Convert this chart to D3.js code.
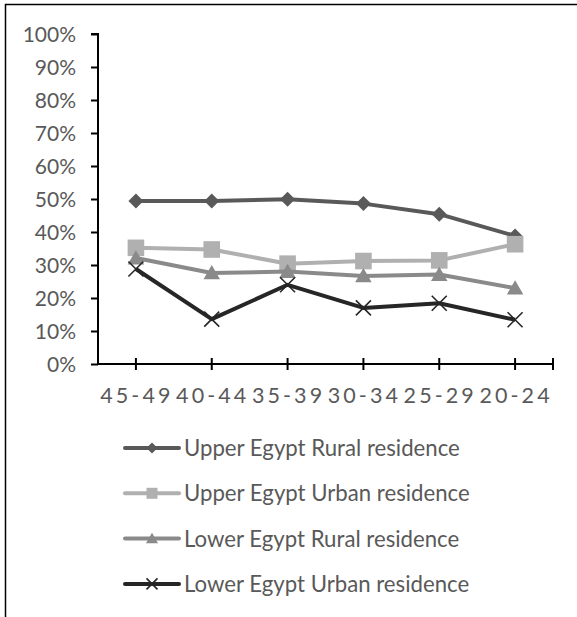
<!DOCTYPE html>
<html>
<head>
<meta charset="utf-8">
<script src="https://cdn.jsdelivr.net/npm/d3@7"></script>
<style>
  html, body { margin: 0; padding: 0; background: #fff; }
  svg { display: block; }
  text { font-family: Lato, "Open Sans", sans-serif; fill: #595959; }
</style>
</head>
<body>
<svg id="chart" width="577" height="617"></svg>
<script>
// Age groups along the x axis
const categories = ["45-49", "40-44", "35-39", "30-34", "25-29", "20-24"];

// Share (%) per age group, one array per region/residence
const upperRural = [49.4, 49.4, 49.9, 48.6, 45.4, 38.8];
const upperUrban = [35.2, 34.7, 30.4, 31.2, 31.4, 36.3];
const lowerRural = [32.1, 27.6, 28.0, 26.7, 27.1, 23.0];
const lowerUrban = [28.8, 13.6, 24.0, 17.0, 18.4, 13.4];

const seriesNames = [
  "Upper Egypt Rural residence",
  "Upper Egypt Urban residence",
  "Lower Egypt Rural residence",
  "Lower Egypt Urban residence"
];
const yTicks = [0, 10, 20, 30, 40, 50, 60, 70, 80, 90, 100];

const series = [
  { name: seriesNames[0], values: upperRural, color: "#595959", marker: "diamond" },
  { name: seriesNames[1], values: upperUrban, color: "#b0b0b0", marker: "square" },
  { name: seriesNames[2], values: lowerRural, color: "#8a8a8a", marker: "triangle" },
  { name: seriesNames[3], values: lowerUrban, color: "#262626", marker: "cross" }
];

const svg = d3.select("#chart");

// frame
svg.append("path")
  .attr("d", "M5.5,617V4.5H577")
  .attr("fill", "none").attr("stroke", "#000").attr("stroke-width", 1.5);

const plot = { left: 98, right: 553, top: 34, bottom: 364 };

const x = d3.scaleBand().domain(categories).range([plot.left, plot.right]).padding(0);
const cx = d => x(d) + x.bandwidth() / 2;
const y = d3.scaleLinear().domain([0, 100]).range([plot.bottom, plot.top]);

// y axis
const yAxis = d3.axisLeft(y).tickValues(yTicks).tickFormat(d => d + "%").tickSize(7).tickPadding(15);
const gy = svg.append("g").attr("transform", `translate(${plot.left},0)`).call(yAxis);
gy.select(".domain").attr("stroke", "#000").attr("stroke-width", 2).attr("d", `M-7,${plot.top}H0V${plot.bottom}`);
gy.selectAll(".tick line").attr("stroke", "#000").attr("stroke-width", 2);
gy.selectAll(".tick text").attr("font-size", 21).attr("fill", "#595959")
  .attr("font-family", "Lato").attr("dy", "0.36em");

// x axis: ticks at category points plus the axis end
const gx = svg.append("g").attr("transform", `translate(0,${plot.bottom})`);
gx.append("line").attr("x1", plot.left - 1).attr("x2", plot.right)
  .attr("stroke", "#000").attr("stroke-width", 2);
const tickXs = categories.map(cx).concat([plot.right]);
gx.selectAll("line.tk").data(tickXs).join("line").attr("class", "tk")
  .attr("x1", d => d).attr("x2", d => d).attr("y1", -6).attr("y2", 6)
  .attr("stroke", "#000").attr("stroke-width", 2);
gx.selectAll("text").data(categories).join("text")
  .attr("x", d => cx(d) + 1).attr("y", 39)
  .attr("text-anchor", "middle")
  .attr("font-size", 21.5).attr("letter-spacing", 3.1)
  .text(d => d);

// marker drawing
function drawMarker(g, type, color, s) {
  if (type === "diamond") {
    g.append("path").attr("d", `M0,${-s}L${s},0L0,${s}L${-s},0Z`).attr("fill", color);
  } else if (type === "square") {
    g.append("rect").attr("x", -s).attr("y", -s).attr("width", 2 * s).attr("height", 2 * s).attr("fill", color);
  } else if (type === "triangle") {
    g.append("path").attr("d", `M0,${-s * 1.05}L${s * 1.1},${s * 0.85}L${-s * 1.1},${s * 0.85}Z`).attr("fill", color);
  } else {
    g.append("path").attr("d", `M${-s},${-s}L${s},${s}M${-s},${s}L${s},${-s}`)
      .attr("stroke", color).attr("stroke-width", 1.6).attr("fill", "none");
  }
}

const line = d3.line().x((d, i) => cx(categories[i])).y(d => y(d));
const sizes = { diamond: 7.5, square: 8.3, triangle: 7.5, cross: 7.5 };

series.forEach(s => {
  const g = svg.append("g");
  g.append("path").attr("d", line(s.values)).attr("fill", "none")
    .attr("stroke", s.color).attr("stroke-width", 4).attr("stroke-linejoin", "round");
  s.values.forEach((v, i) => {
    const m = g.append("g").attr("transform", `translate(${cx(categories[i])},${y(v)})`);
    drawMarker(m, s.marker, s.color, sizes[s.marker]);
  });
});

// legend
const legend = svg.append("g");
series.forEach((s, i) => {
  const ly = 448 + i * 45.3;
  const g = legend.append("g").attr("transform", `translate(0,${ly})`);
  g.append("line").attr("x1", 125).attr("x2", 179).attr("stroke", s.color)
    .attr("stroke-width", 4).attr("stroke-linecap", "round");
  const m = g.append("g").attr("transform", "translate(152,0)");
  drawMarker(m, s.marker, s.color, 5.5);
  g.append("text").attr("x", 184).attr("y", 0).attr("dy", "0.36em")
    .attr("font-size", 22.2).text(s.name);
});
</script>
</body>
</html>
